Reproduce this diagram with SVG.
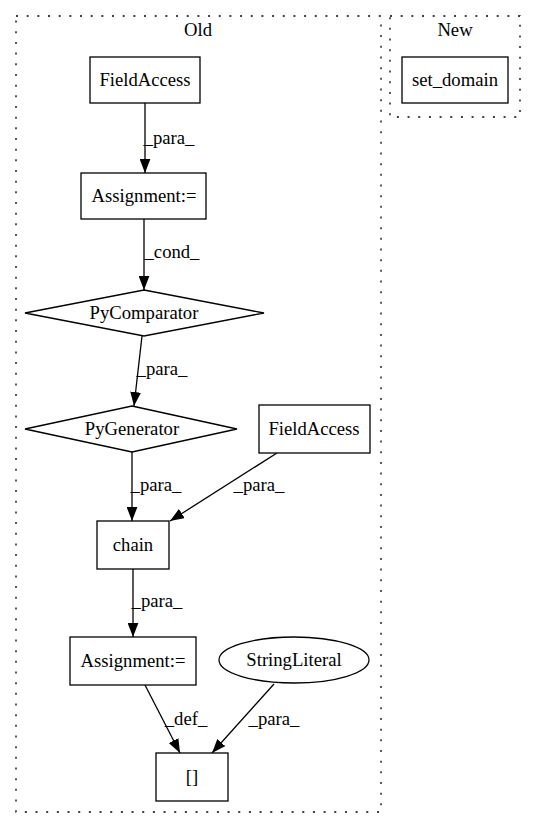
<svg xmlns="http://www.w3.org/2000/svg" width="536" height="828" viewBox="0 0 536 828">
<style>
text { font-family: 'Liberation Serif', 'Times New Roman', Times, serif; font-size: 18.67px; fill: #000; text-anchor: middle; }
.cluster { fill: none; stroke: #000; stroke-width: 1.3; stroke-dasharray: 2 8.67; }
.node { fill: #fff; stroke: #000; stroke-width: 1.3; }
.edge { fill: none; stroke: #000; stroke-width: 1.3; marker-end: url(#arrow); }
</style>
<defs>
<marker id="arrow" markerUnits="userSpaceOnUse" markerWidth="14" markerHeight="11" viewBox="0 0 13 10" refX="13" refY="5" orient="auto">
<path d="M0,0 L13,5 L0,10 Z" fill="#000"/>
</marker>
</defs>
<rect width="536" height="828" fill="#fff"/>
<g id="cluster_old">
<rect class="cluster" x="16" y="16" width="365" height="796"/>
<text x="198" y="36">Old</text>
</g>
<g id="cluster_new">
<rect class="cluster" x="390" y="16" width="130" height="101"/>
<text x="455" y="36">New</text>
</g>
<g id="connectors">
<line class="edge" x1="145" y1="103" x2="145" y2="173"/>
<text x="169" y="144">_para_</text>
<line class="edge" x1="144" y1="219" x2="144" y2="290"/>
<text x="172" y="258">_cond_</text>
<line class="edge" x1="142" y1="336" x2="134" y2="406"/>
<text x="162" y="375">_para_</text>
<line class="edge" x1="132" y1="452" x2="132" y2="521"/>
<text x="156" y="491">_para_</text>
<line class="edge" x1="277" y1="453" x2="170" y2="521"/>
<text x="259" y="491">_para_</text>
<line class="edge" x1="133" y1="569" x2="133" y2="637"/>
<text x="157" y="607">_para_</text>
<line class="edge" x1="145" y1="685" x2="180" y2="753"/>
<text x="186" y="725">_def_</text>
<line class="edge" x1="274" y1="684" x2="212" y2="753"/>
<text x="274" y="725">_para_</text>
</g>
<g id="fieldaccess1">
<rect class="node" x="90" y="57" width="110" height="46"/>
<text x="145" y="86">FieldAccess</text>
</g>
<g id="set_domain">
<rect class="node" x="402" y="57" width="106" height="46"/>
<text x="455" y="86">set_domain</text>
</g>
<g id="assignment1">
<rect class="node" x="81" y="173" width="125" height="46"/>
<text x="144" y="202">Assignment:=</text>
</g>
<g id="pycomparator">
<polygon class="node" points="144,290 264,313 144,336 25,313"/>
<text x="144" y="319">PyComparator</text>
</g>
<g id="pygenerator">
<polygon class="node" points="132,406 237,429 132,452 25,429"/>
<text x="132" y="435">PyGenerator</text>
</g>
<g id="fieldaccess2">
<rect class="node" x="259" y="405" width="111" height="48"/>
<text x="314" y="435">FieldAccess</text>
</g>
<g id="chain">
<rect class="node" x="97" y="521" width="72" height="48"/>
<text x="133" y="551">chain</text>
</g>
<g id="assignment2">
<rect class="node" x="70" y="637" width="126" height="48"/>
<text x="133" y="667">Assignment:=</text>
</g>
<g id="stringliteral">
<ellipse class="node" cx="294" cy="660" rx="75" ry="23"/>
<text x="294" y="666">StringLiteral</text>
</g>
<g id="subscript">
<rect class="node" x="156" y="753" width="72" height="48"/>
<text x="192" y="783">[]</text>
</g>
</svg>
